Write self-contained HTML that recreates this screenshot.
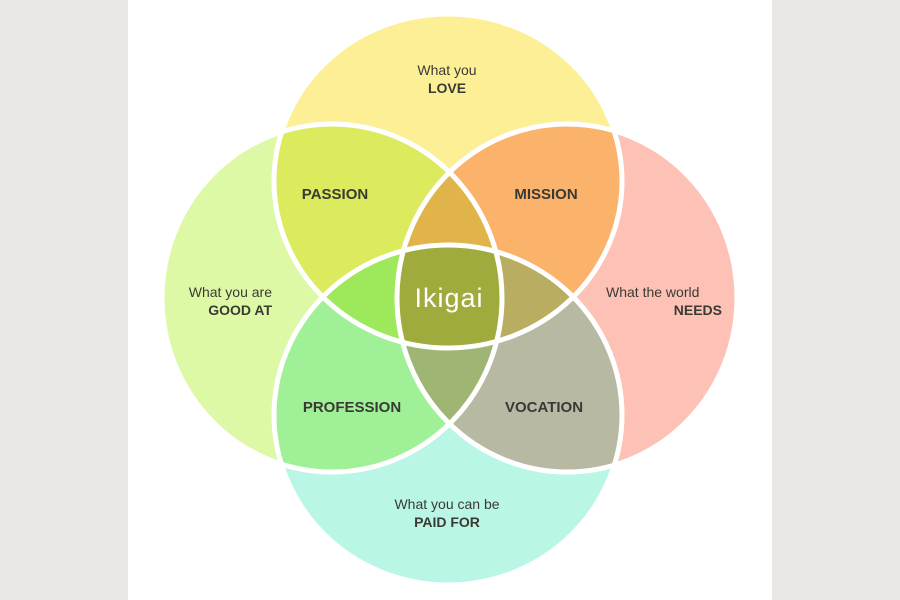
<!DOCTYPE html>
<html><head><meta charset="utf-8"><style>
html,body{margin:0;padding:0;width:900px;height:600px;overflow:hidden;background:#e9e8e4}
svg{display:block}
text{font-family:"Liberation Sans",sans-serif;fill:#3a3a35}
</style></head><body>
<svg width="900" height="600" viewBox="0 0 900 600" xmlns="http://www.w3.org/2000/svg">
<defs>
<clipPath id="T"><ellipse cx="448" cy="181" rx="174" ry="167"/></clipPath>
<clipPath id="L"><ellipse cx="332" cy="298" rx="170" ry="174"/></clipPath>
<clipPath id="R"><ellipse cx="567" cy="298" rx="170" ry="174"/></clipPath>
<clipPath id="B"><ellipse cx="448" cy="415" rx="174" ry="170"/></clipPath>
</defs>
<rect x="128" y="0" width="644" height="600" fill="#ffffff"/>
<ellipse cx="448" cy="181" rx="174" ry="167" fill="#fdef95"/>
<ellipse cx="332" cy="298" rx="170" ry="174" fill="#ddf9a6"/>
<ellipse cx="567" cy="298" rx="170" ry="174" fill="#fdc2b5"/>
<ellipse cx="448" cy="415" rx="174" ry="170" fill="#b9f6e6"/>
<g clip-path="url(#T)"><ellipse cx="332" cy="298" rx="170" ry="174" fill="#dcea5e"/><ellipse cx="567" cy="298" rx="170" ry="174" fill="#fbb26b"/></g>
<g clip-path="url(#B)"><ellipse cx="332" cy="298" rx="170" ry="174" fill="#a0f097"/><ellipse cx="567" cy="298" rx="170" ry="174" fill="#b8b9a3"/></g>
<g clip-path="url(#T)"><g clip-path="url(#L)"><ellipse cx="567" cy="298" rx="170" ry="174" fill="#e0b44b"/><ellipse cx="448" cy="415" rx="174" ry="170" fill="#9ee85b"/></g></g>
<g clip-path="url(#B)"><g clip-path="url(#R)"><ellipse cx="448" cy="181" rx="174" ry="167" fill="#b9ad62"/><ellipse cx="332" cy="298" rx="170" ry="174" fill="#9eb573"/></g></g>
<g clip-path="url(#T)"><g clip-path="url(#L)"><g clip-path="url(#R)"><ellipse cx="448" cy="415" rx="174" ry="170" fill="#a0ab3e"/></g></g></g>
<g fill="none" stroke="#ffffff" stroke-width="5">
<ellipse cx="448" cy="181" rx="174" ry="167"/>
<ellipse cx="332" cy="298" rx="170" ry="174"/>
<ellipse cx="567" cy="298" rx="170" ry="174"/>
<ellipse cx="448" cy="415" rx="174" ry="170"/>
</g>
<g text-anchor="middle" font-size="14">
<text x="447" y="75">What you</text>
<text x="447" y="93" font-weight="bold">LOVE</text>
<text x="335" y="199" font-weight="bold" font-size="15">PASSION</text>
<text x="546" y="199" font-weight="bold" font-size="15">MISSION</text>
<text x="352" y="412" font-weight="bold" font-size="15">PROFESSION</text>
<text x="544" y="412" font-weight="bold" font-size="15">VOCATION</text>
<text x="447" y="509">What you can be</text>
<text x="447" y="527" font-weight="bold">PAID FOR</text>
</g>
<text x="272" y="297" font-size="14" text-anchor="end">What you are</text>
<text x="272" y="315" font-size="14" text-anchor="end" font-weight="bold">GOOD AT</text>
<text x="606" y="297" font-size="14">What the world</text>
<text x="722" y="315" font-size="14" text-anchor="end" font-weight="bold">NEEDS</text>
<text x="449" y="307" font-size="27" text-anchor="middle" style="fill:#ffffff;letter-spacing:1px">Ikigai</text>
</svg>
</body></html>
